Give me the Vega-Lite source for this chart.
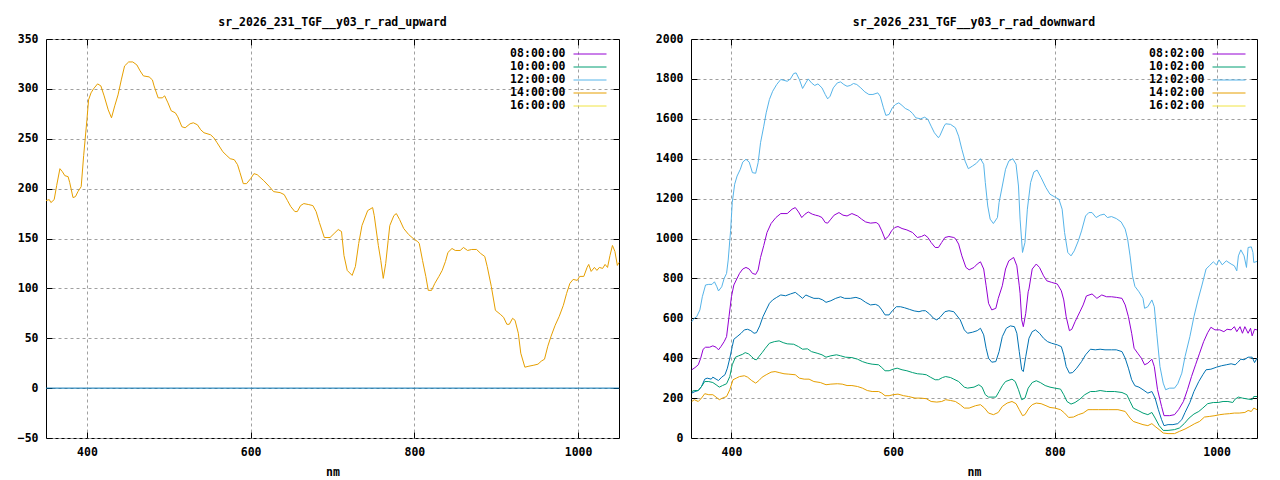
{
  "$schema": "https://vega.github.io/schema/vega-lite/v6.json",
  "background": "white",
  "padding": {"left": 5, "top": 16, "right": 5, "bottom": 0},
  "spacing": 28,
  "config": {
    "font": "DejaVu Sans Mono",
    "view": {"stroke": "black", "strokeWidth": 1},
    "axis": {
      "labelFont": "DejaVu Sans Mono", "labelFontSize": 11.5, "labelFontWeight": "bold", "labelColor": "black",
      "titleFont": "DejaVu Sans Mono", "titleFontSize": 11.5, "titleFontWeight": "bold", "titleColor": "black",
      "domain": false, "tickColor": "black", "tickSize": -6, "tickWidth": 1, "format": "d",
      "gridColor": "#a0a0a0", "gridDash": [3, 3], "gridWidth": 1
    },
    "axisX": {"labelPadding": 14, "titlePadding": 9},
    "axisY": {"labelPadding": 14, "minExtent": 40, "maxExtent": 40, "title": null},
    "title": {"font": "DejaVu Sans Mono", "fontSize": 11.5, "fontWeight": "bold", "color": "black", "offset": 5},
    "legend": {
      "orient": "none", "title": null, "symbolType": "M-3,0H3", "symbolSize": 121, "symbolStrokeWidth": 1,
      "labelAlign": "right", "labelOffset": -30.5, "labelFont": "DejaVu Sans Mono", "labelFontSize": 11.5,
      "labelFontWeight": "bold", "labelColor": "black", "rowPadding": 1
    }
  },
  "resolve": {"scale": {"color": "independent"}, "legend": {"color": "independent"}},
  "hconcat": [
    {
      "width": 573, "height": 399,
      "title": {"text": "sr_2026_231_TGF__y03_r_rad_upward", "frame": "group"},
      "layer": [
        {
          "data": {"values": [
            {"s":"z","x":350,"y":0},{"s":"z","x":1050,"y":0},
            {"s":"o","x":350,"y":188},{"s":"o","x":354,"y":189},{"s":"o","x":356,"y":186},{"s":"o","x":360,"y":189},{"s":"o","x":363,"y":203},{"s":"o","x":367,"y":220},{"s":"o","x":370,"y":217},{"s":"o","x":373,"y":213},{"s":"o","x":377,"y":212},{"s":"o","x":379,"y":206},{"s":"o","x":383,"y":191},{"s":"o","x":386,"y":192},{"s":"o","x":389,"y":197},{"s":"o","x":393,"y":202},{"s":"o","x":396,"y":233},{"s":"o","x":400,"y":269},{"s":"o","x":402,"y":289},{"s":"o","x":405,"y":296},{"s":"o","x":408,"y":300},{"s":"o","x":413,"y":305},{"s":"o","x":417,"y":303},{"s":"o","x":421,"y":293},{"s":"o","x":426,"y":279},{"s":"o","x":430,"y":271},{"s":"o","x":434,"y":283},{"s":"o","x":438,"y":294},{"s":"o","x":442,"y":309},{"s":"o","x":446,"y":323},{"s":"o","x":451,"y":327},{"s":"o","x":456,"y":327},{"s":"o","x":461,"y":324},{"s":"o","x":465,"y":318},{"s":"o","x":469,"y":313},{"s":"o","x":476,"y":312},{"s":"o","x":480,"y":309},{"s":"o","x":482,"y":303},{"s":"o","x":487,"y":291},{"s":"o","x":492,"y":291},{"s":"o","x":495,"y":293},{"s":"o","x":499,"y":286},{"s":"o","x":503,"y":278},{"s":"o","x":508,"y":276},{"s":"o","x":511,"y":272},{"s":"o","x":516,"y":262},{"s":"o","x":520,"y":261},{"s":"o","x":526,"y":265},{"s":"o","x":530,"y":266},{"s":"o","x":535,"y":264},{"s":"o","x":539,"y":259},{"s":"o","x":543,"y":256},{"s":"o","x":551,"y":254},{"s":"o","x":555,"y":251},{"s":"o","x":559,"y":246},{"s":"o","x":566,"y":237},{"s":"o","x":571,"y":233},{"s":"o","x":575,"y":230},{"s":"o","x":580,"y":229},{"s":"o","x":584,"y":224},{"s":"o","x":587,"y":216},{"s":"o","x":591,"y":205},{"s":"o","x":595,"y":205},{"s":"o","x":600,"y":210},{"s":"o","x":604,"y":215},{"s":"o","x":608,"y":214},{"s":"o","x":616,"y":208},{"s":"o","x":623,"y":202},{"s":"o","x":628,"y":197},{"s":"o","x":636,"y":196},{"s":"o","x":641,"y":194},{"s":"o","x":645,"y":188},{"s":"o","x":649,"y":182},{"s":"o","x":654,"y":177},{"s":"o","x":657,"y":177},{"s":"o","x":661,"y":183},{"s":"o","x":665,"y":185},{"s":"o","x":671,"y":184},{"s":"o","x":676,"y":183},{"s":"o","x":680,"y":177},{"s":"o","x":684,"y":166},{"s":"o","x":690,"y":151},{"s":"o","x":697,"y":151},{"s":"o","x":702,"y":155},{"s":"o","x":707,"y":159},{"s":"o","x":711,"y":157},{"s":"o","x":714,"y":133},{"s":"o","x":718,"y":118},{"s":"o","x":724,"y":113},{"s":"o","x":728,"y":122},{"s":"o","x":732,"y":145},{"s":"o","x":736,"y":163},{"s":"o","x":743,"y":178},{"s":"o","x":749,"y":181},{"s":"o","x":751,"y":173},{"s":"o","x":756,"y":143},{"s":"o","x":759,"y":128},{"s":"o","x":762,"y":110},{"s":"o","x":765,"y":125},{"s":"o","x":768,"y":148},{"s":"o","x":770,"y":163},{"s":"o","x":775,"y":173},{"s":"o","x":778,"y":175},{"s":"o","x":782,"y":169},{"s":"o","x":787,"y":160},{"s":"o","x":793,"y":154},{"s":"o","x":800,"y":149},{"s":"o","x":804,"y":147},{"s":"o","x":806,"y":145},{"s":"o","x":810,"y":128},{"s":"o","x":814,"y":112},{"s":"o","x":817,"y":98},{"s":"o","x":821,"y":98},{"s":"o","x":825,"y":105},{"s":"o","x":830,"y":112},{"s":"o","x":834,"y":118},{"s":"o","x":838,"y":127},{"s":"o","x":841,"y":136},{"s":"o","x":846,"y":140},{"s":"o","x":850,"y":138},{"s":"o","x":856,"y":138},{"s":"o","x":860,"y":141},{"s":"o","x":865,"y":138},{"s":"o","x":870,"y":139},{"s":"o","x":876,"y":139},{"s":"o","x":881,"y":135},{"s":"o","x":886,"y":132},{"s":"o","x":889,"y":122},{"s":"o","x":894,"y":102},{"s":"o","x":899,"y":78},{"s":"o","x":905,"y":74},{"s":"o","x":909,"y":71},{"s":"o","x":913,"y":64},{"s":"o","x":916,"y":64},{"s":"o","x":920,"y":70},{"s":"o","x":923,"y":68},{"s":"o","x":927,"y":55},{"s":"o","x":930,"y":35},{"s":"o","x":935,"y":21},{"s":"o","x":940,"y":22},{"s":"o","x":946,"y":23},{"s":"o","x":951,"y":24},{"s":"o","x":955,"y":27},{"s":"o","x":959,"y":29},{"s":"o","x":963,"y":42},{"s":"o","x":967,"y":52},{"s":"o","x":972,"y":63},{"s":"o","x":977,"y":72},{"s":"o","x":982,"y":83},{"s":"o","x":986,"y":95},{"s":"o","x":990,"y":105},{"s":"o","x":994,"y":109},{"s":"o","x":999,"y":108},{"s":"o","x":1002,"y":112},{"s":"o","x":1007,"y":112},{"s":"o","x":1011,"y":121},{"s":"o","x":1013,"y":124},{"s":"o","x":1016,"y":117},{"s":"o","x":1020,"y":121},{"s":"o","x":1023,"y":118},{"s":"o","x":1026,"y":121},{"s":"o","x":1030,"y":120},{"s":"o","x":1033,"y":124},{"s":"o","x":1036,"y":121},{"s":"o","x":1039,"y":133},{"s":"o","x":1042,"y":143},{"s":"o","x":1045,"y":137},{"s":"o","x":1048,"y":123},{"s":"o","x":1050,"y":126}
          ]},
          "mark": {"type": "line", "strokeWidth": 1},
          "encoding": {
            "x": {"field": "x", "type": "quantitative", "title": "nm",
                  "scale": {"domain": [350, 1050], "nice": false, "zero": false},
                  "axis": {"values": [400, 600, 800, 1000]}},
            "y": {"field": "y", "type": "quantitative",
                  "scale": {"domain": [-50, 350], "nice": false, "zero": false},
                  "axis": {"values": [-50, 0, 50, 100, 150, 200, 250, 300, 350]}},
            "color": {"field": "s", "type": "nominal", "legend": null,
                      "scale": {"domain": ["z", "o"], "range": ["#0072b2", "#e69f00"]}}
          }
        },
        {
          "data": {"values": []},
          "mark": {"type": "line", "strokeWidth": 1},
          "encoding": {
            "x": {"field": "x", "type": "quantitative",
                  "axis": {"orient": "top", "values": [400, 600, 800, 1000], "labels": false, "grid": false, "title": null, "minExtent": 0, "maxExtent": 0}},
            "y": {"field": "y", "type": "quantitative",
                  "axis": {"orient": "right", "values": [-50, 0, 50, 100, 150, 200, 250, 300, 350], "labels": false, "grid": false, "title": null, "minExtent": 0, "maxExtent": 0}},
            "color": {"field": "t", "type": "nominal",
                      "scale": {"domain": ["08:00:00", "10:00:00", "12:00:00", "14:00:00", "16:00:00"],
                                "range": ["#9400d3", "#009e73", "#56b4e9", "#e69f00", "#f0e442"]},
                      "legend": {"legendX": 538, "legendY": 9}}
          }
        }
      ],
      "resolve": {"scale": {"color": "independent"}, "axis": {"x": "independent", "y": "independent"}, "legend": {"color": "independent"}}
    },
    {
      "width": 566, "height": 399,
      "title": {"text": "sr_2026_231_TGF__y03_r_rad_downward", "frame": "group"},
      "layer": [
        {
          "data": {"values": [
            {"s":"a","x":351,"y":342},{"s":"a","x":355,"y":353},{"s":"a","x":359,"y":367},{"s":"a","x":362,"y":400},{"s":"a","x":365,"y":445},{"s":"a","x":368,"y":455},{"s":"a","x":373,"y":455},{"s":"a","x":377,"y":462},{"s":"a","x":381,"y":455},{"s":"a","x":384,"y":442},{"s":"a","x":387,"y":458},{"s":"a","x":391,"y":483},{"s":"a","x":394,"y":508},{"s":"a","x":397,"y":608},{"s":"a","x":400,"y":708},{"s":"a","x":403,"y":767},{"s":"a","x":406,"y":792},{"s":"a","x":410,"y":825},{"s":"a","x":414,"y":847},{"s":"a","x":418,"y":855},{"s":"a","x":422,"y":847},{"s":"a","x":426,"y":825},{"s":"a","x":430,"y":820},{"s":"a","x":433,"y":842},{"s":"a","x":436,"y":905},{"s":"a","x":440,"y":965},{"s":"a","x":444,"y":1030},{"s":"a","x":449,"y":1075},{"s":"a","x":455,"y":1105},{"s":"a","x":461,"y":1125},{"s":"a","x":469,"y":1125},{"s":"a","x":475,"y":1147},{"s":"a","x":479,"y":1155},{"s":"a","x":483,"y":1133},{"s":"a","x":487,"y":1105},{"s":"a","x":491,"y":1122},{"s":"a","x":495,"y":1133},{"s":"a","x":500,"y":1122},{"s":"a","x":504,"y":1117},{"s":"a","x":508,"y":1113},{"s":"a","x":512,"y":1105},{"s":"a","x":516,"y":1080},{"s":"a","x":519,"y":1077},{"s":"a","x":523,"y":1097},{"s":"a","x":527,"y":1117},{"s":"a","x":533,"y":1130},{"s":"a","x":538,"y":1117},{"s":"a","x":543,"y":1113},{"s":"a","x":549,"y":1125},{"s":"a","x":556,"y":1113},{"s":"a","x":561,"y":1097},{"s":"a","x":566,"y":1083},{"s":"a","x":572,"y":1077},{"s":"a","x":579,"y":1080},{"s":"a","x":582,"y":1072},{"s":"a","x":586,"y":1038},{"s":"a","x":590,"y":997},{"s":"a","x":594,"y":1010},{"s":"a","x":598,"y":1038},{"s":"a","x":602,"y":1055},{"s":"a","x":606,"y":1060},{"s":"a","x":611,"y":1050},{"s":"a","x":617,"y":1043},{"s":"a","x":624,"y":1030},{"s":"a","x":630,"y":1005},{"s":"a","x":635,"y":1010},{"s":"a","x":639,"y":1018},{"s":"a","x":643,"y":1005},{"s":"a","x":647,"y":980},{"s":"a","x":652,"y":955},{"s":"a","x":656,"y":955},{"s":"a","x":660,"y":980},{"s":"a","x":664,"y":1005},{"s":"a","x":669,"y":1010},{"s":"a","x":675,"y":1005},{"s":"a","x":677,"y":1000},{"s":"a","x":681,"y":972},{"s":"a","x":685,"y":913},{"s":"a","x":690,"y":855},{"s":"a","x":694,"y":843},{"s":"a","x":700,"y":855},{"s":"a","x":704,"y":872},{"s":"a","x":708,"y":883},{"s":"a","x":712,"y":847},{"s":"a","x":715,"y":763},{"s":"a","x":718,"y":675},{"s":"a","x":722,"y":642},{"s":"a","x":727,"y":650},{"s":"a","x":730,"y":700},{"s":"a","x":735,"y":763},{"s":"a","x":739,"y":847},{"s":"a","x":743,"y":888},{"s":"a","x":749,"y":905},{"s":"a","x":753,"y":863},{"s":"a","x":756,"y":763},{"s":"a","x":757,"y":725},{"s":"a","x":759,"y":592},{"s":"a","x":761,"y":558},{"s":"a","x":764,"y":625},{"s":"a","x":767,"y":733},{"s":"a","x":768,"y":747},{"s":"a","x":772,"y":847},{"s":"a","x":777,"y":872},{"s":"a","x":781,"y":855},{"s":"a","x":786,"y":813},{"s":"a","x":790,"y":788},{"s":"a","x":796,"y":780},{"s":"a","x":803,"y":772},{"s":"a","x":808,"y":738},{"s":"a","x":811,"y":692},{"s":"a","x":814,"y":608},{"s":"a","x":818,"y":538},{"s":"a","x":821,"y":545},{"s":"a","x":825,"y":583},{"s":"a","x":831,"y":633},{"s":"a","x":835,"y":667},{"s":"a","x":839,"y":712},{"s":"a","x":846,"y":722},{"s":"a","x":852,"y":700},{"s":"a","x":858,"y":717},{"s":"a","x":864,"y":708},{"s":"a","x":870,"y":708},{"s":"a","x":876,"y":705},{"s":"a","x":883,"y":700},{"s":"a","x":887,"y":667},{"s":"a","x":891,"y":608},{"s":"a","x":895,"y":525},{"s":"a","x":898,"y":450},{"s":"a","x":903,"y":422},{"s":"a","x":907,"y":400},{"s":"a","x":911,"y":367},{"s":"a","x":915,"y":375},{"s":"a","x":920,"y":395},{"s":"a","x":923,"y":358},{"s":"a","x":927,"y":242},{"s":"a","x":932,"y":158},{"s":"a","x":935,"y":112},{"s":"a","x":942,"y":112},{"s":"a","x":948,"y":117},{"s":"a","x":953,"y":142},{"s":"a","x":959,"y":183},{"s":"a","x":964,"y":242},{"s":"a","x":969,"y":308},{"s":"a","x":974,"y":367},{"s":"a","x":979,"y":425},{"s":"a","x":984,"y":483},{"s":"a","x":989,"y":528},{"s":"a","x":993,"y":555},{"s":"a","x":998,"y":542},{"s":"a","x":1004,"y":542},{"s":"a","x":1009,"y":533},{"s":"a","x":1013,"y":545},{"s":"a","x":1018,"y":542},{"s":"a","x":1022,"y":558},{"s":"a","x":1025,"y":533},{"s":"a","x":1029,"y":558},{"s":"a","x":1032,"y":525},{"s":"a","x":1035,"y":558},{"s":"a","x":1039,"y":525},{"s":"a","x":1042,"y":550},{"s":"a","x":1044,"y":512},{"s":"a","x":1047,"y":545},{"s":"a","x":1050,"y":542},
            {"s":"b","x":351,"y":583},{"s":"b","x":354,"y":600},{"s":"b","x":357,"y":608},{"s":"b","x":361,"y":642},{"s":"b","x":364,"y":708},{"s":"b","x":368,"y":767},{"s":"b","x":372,"y":770},{"s":"b","x":376,"y":770},{"s":"b","x":379,"y":783},{"s":"b","x":382,"y":758},{"s":"b","x":384,"y":737},{"s":"b","x":388,"y":758},{"s":"b","x":391,"y":800},{"s":"b","x":394,"y":825},{"s":"b","x":396,"y":892},{"s":"b","x":398,"y":992},{"s":"b","x":399,"y":1040},{"s":"b","x":401,"y":1180},{"s":"b","x":404,"y":1272},{"s":"b","x":407,"y":1313},{"s":"b","x":411,"y":1347},{"s":"b","x":414,"y":1383},{"s":"b","x":418,"y":1397},{"s":"b","x":422,"y":1383},{"s":"b","x":426,"y":1330},{"s":"b","x":430,"y":1327},{"s":"b","x":433,"y":1380},{"s":"b","x":436,"y":1480},{"s":"b","x":440,"y":1563},{"s":"b","x":443,"y":1630},{"s":"b","x":447,"y":1697},{"s":"b","x":451,"y":1738},{"s":"b","x":456,"y":1772},{"s":"b","x":461,"y":1797},{"s":"b","x":465,"y":1793},{"s":"b","x":469,"y":1788},{"s":"b","x":473,"y":1800},{"s":"b","x":477,"y":1827},{"s":"b","x":480,"y":1830},{"s":"b","x":484,"y":1797},{"s":"b","x":488,"y":1752},{"s":"b","x":492,"y":1780},{"s":"b","x":495,"y":1800},{"s":"b","x":499,"y":1780},{"s":"b","x":503,"y":1767},{"s":"b","x":507,"y":1775},{"s":"b","x":512,"y":1755},{"s":"b","x":516,"y":1722},{"s":"b","x":519,"y":1700},{"s":"b","x":522,"y":1713},{"s":"b","x":526,"y":1755},{"s":"b","x":531,"y":1780},{"s":"b","x":535,"y":1785},{"s":"b","x":539,"y":1772},{"s":"b","x":543,"y":1763},{"s":"b","x":547,"y":1767},{"s":"b","x":551,"y":1777},{"s":"b","x":555,"y":1772},{"s":"b","x":560,"y":1755},{"s":"b","x":565,"y":1735},{"s":"b","x":570,"y":1722},{"s":"b","x":575,"y":1722},{"s":"b","x":581,"y":1730},{"s":"b","x":584,"y":1713},{"s":"b","x":588,"y":1655},{"s":"b","x":591,"y":1617},{"s":"b","x":595,"y":1622},{"s":"b","x":599,"y":1655},{"s":"b","x":603,"y":1672},{"s":"b","x":607,"y":1680},{"s":"b","x":611,"y":1667},{"s":"b","x":615,"y":1652},{"s":"b","x":620,"y":1642},{"s":"b","x":624,"y":1627},{"s":"b","x":628,"y":1605},{"s":"b","x":634,"y":1600},{"s":"b","x":639,"y":1608},{"s":"b","x":643,"y":1597},{"s":"b","x":647,"y":1563},{"s":"b","x":651,"y":1530},{"s":"b","x":656,"y":1505},{"s":"b","x":658,"y":1517},{"s":"b","x":663,"y":1563},{"s":"b","x":665,"y":1575},{"s":"b","x":671,"y":1572},{"s":"b","x":677,"y":1555},{"s":"b","x":681,"y":1513},{"s":"b","x":685,"y":1447},{"s":"b","x":689,"y":1388},{"s":"b","x":693,"y":1350},{"s":"b","x":698,"y":1363},{"s":"b","x":703,"y":1377},{"s":"b","x":708,"y":1400},{"s":"b","x":712,"y":1372},{"s":"b","x":714,"y":1280},{"s":"b","x":717,"y":1163},{"s":"b","x":720,"y":1097},{"s":"b","x":724,"y":1075},{"s":"b","x":729,"y":1105},{"s":"b","x":731,"y":1180},{"s":"b","x":735,"y":1263},{"s":"b","x":739,"y":1347},{"s":"b","x":743,"y":1388},{"s":"b","x":748,"y":1400},{"s":"b","x":752,"y":1372},{"s":"b","x":755,"y":1263},{"s":"b","x":757,"y":1097},{"s":"b","x":760,"y":930},{"s":"b","x":763,"y":980},{"s":"b","x":766,"y":1147},{"s":"b","x":770,"y":1280},{"s":"b","x":774,"y":1333},{"s":"b","x":778,"y":1343},{"s":"b","x":783,"y":1305},{"s":"b","x":789,"y":1255},{"s":"b","x":794,"y":1222},{"s":"b","x":800,"y":1208},{"s":"b","x":805,"y":1197},{"s":"b","x":809,"y":1147},{"s":"b","x":812,"y":1030},{"s":"b","x":816,"y":930},{"s":"b","x":820,"y":913},{"s":"b","x":824,"y":938},{"s":"b","x":829,"y":988},{"s":"b","x":833,"y":1038},{"s":"b","x":838,"y":1113},{"s":"b","x":842,"y":1130},{"s":"b","x":846,"y":1130},{"s":"b","x":851,"y":1105},{"s":"b","x":856,"y":1117},{"s":"b","x":861,"y":1122},{"s":"b","x":865,"y":1105},{"s":"b","x":870,"y":1110},{"s":"b","x":876,"y":1100},{"s":"b","x":882,"y":1083},{"s":"b","x":887,"y":1047},{"s":"b","x":890,"y":997},{"s":"b","x":893,"y":913},{"s":"b","x":896,"y":813},{"s":"b","x":899,"y":760},{"s":"b","x":904,"y":733},{"s":"b","x":909,"y":700},{"s":"b","x":911,"y":650},{"s":"b","x":915,"y":658},{"s":"b","x":920,"y":692},{"s":"b","x":923,"y":658},{"s":"b","x":926,"y":525},{"s":"b","x":930,"y":358},{"s":"b","x":934,"y":275},{"s":"b","x":937,"y":242},{"s":"b","x":942,"y":250},{"s":"b","x":948,"y":250},{"s":"b","x":952,"y":272},{"s":"b","x":957,"y":325},{"s":"b","x":961,"y":408},{"s":"b","x":967,"y":508},{"s":"b","x":972,"y":608},{"s":"b","x":977,"y":692},{"s":"b","x":982,"y":767},{"s":"b","x":987,"y":847},{"s":"b","x":991,"y":863},{"s":"b","x":996,"y":883},{"s":"b","x":1000,"y":867},{"s":"b","x":1003,"y":893},{"s":"b","x":1007,"y":868},{"s":"b","x":1012,"y":888},{"s":"b","x":1018,"y":872},{"s":"b","x":1022,"y":863},{"s":"b","x":1025,"y":838},{"s":"b","x":1027,"y":913},{"s":"b","x":1030,"y":943},{"s":"b","x":1034,"y":913},{"s":"b","x":1037,"y":855},{"s":"b","x":1039,"y":955},{"s":"b","x":1043,"y":958},{"s":"b","x":1045,"y":930},{"s":"b","x":1046,"y":880},{"s":"b","x":1050,"y":885},
            {"s":"c","x":351,"y":225},{"s":"c","x":355,"y":233},{"s":"c","x":359,"y":238},{"s":"c","x":363,"y":258},{"s":"c","x":367,"y":295},{"s":"c","x":370,"y":300},{"s":"c","x":375,"y":295},{"s":"c","x":377,"y":305},{"s":"c","x":381,"y":295},{"s":"c","x":384,"y":288},{"s":"c","x":388,"y":305},{"s":"c","x":392,"y":317},{"s":"c","x":395,"y":350},{"s":"c","x":398,"y":400},{"s":"c","x":401,"y":458},{"s":"c","x":403,"y":495},{"s":"c","x":407,"y":508},{"s":"c","x":412,"y":525},{"s":"c","x":416,"y":542},{"s":"c","x":420,"y":545},{"s":"c","x":424,"y":538},{"s":"c","x":428,"y":525},{"s":"c","x":431,"y":528},{"s":"c","x":435,"y":562},{"s":"c","x":439,"y":608},{"s":"c","x":443,"y":642},{"s":"c","x":447,"y":675},{"s":"c","x":451,"y":692},{"s":"c","x":456,"y":705},{"s":"c","x":461,"y":717},{"s":"c","x":467,"y":713},{"s":"c","x":473,"y":722},{"s":"c","x":479,"y":730},{"s":"c","x":483,"y":717},{"s":"c","x":488,"y":700},{"s":"c","x":492,"y":717},{"s":"c","x":497,"y":708},{"s":"c","x":502,"y":700},{"s":"c","x":508,"y":700},{"s":"c","x":513,"y":692},{"s":"c","x":517,"y":680},{"s":"c","x":523,"y":688},{"s":"c","x":529,"y":700},{"s":"c","x":535,"y":708},{"s":"c","x":540,"y":700},{"s":"c","x":547,"y":700},{"s":"c","x":554,"y":705},{"s":"c","x":560,"y":697},{"s":"c","x":566,"y":680},{"s":"c","x":572,"y":667},{"s":"c","x":578,"y":670},{"s":"c","x":582,"y":663},{"s":"c","x":586,"y":642},{"s":"c","x":590,"y":617},{"s":"c","x":595,"y":617},{"s":"c","x":599,"y":638},{"s":"c","x":604,"y":658},{"s":"c","x":609,"y":658},{"s":"c","x":614,"y":653},{"s":"c","x":620,"y":645},{"s":"c","x":626,"y":637},{"s":"c","x":632,"y":633},{"s":"c","x":636,"y":638},{"s":"c","x":640,"y":638},{"s":"c","x":645,"y":622},{"s":"c","x":650,"y":600},{"s":"c","x":654,"y":592},{"s":"c","x":658,"y":605},{"s":"c","x":664,"y":633},{"s":"c","x":669,"y":638},{"s":"c","x":675,"y":633},{"s":"c","x":683,"y":592},{"s":"c","x":688,"y":542},{"s":"c","x":692,"y":525},{"s":"c","x":698,"y":530},{"s":"c","x":704,"y":538},{"s":"c","x":708,"y":550},{"s":"c","x":712,"y":517},{"s":"c","x":715,"y":450},{"s":"c","x":718,"y":400},{"s":"c","x":722,"y":380},{"s":"c","x":727,"y":383},{"s":"c","x":731,"y":433},{"s":"c","x":735,"y":508},{"s":"c","x":740,"y":550},{"s":"c","x":745,"y":562},{"s":"c","x":750,"y":558},{"s":"c","x":753,"y":525},{"s":"c","x":756,"y":433},{"s":"c","x":759,"y":342},{"s":"c","x":761,"y":333},{"s":"c","x":764,"y":408},{"s":"c","x":768,"y":500},{"s":"c","x":772,"y":533},{"s":"c","x":776,"y":542},{"s":"c","x":781,"y":525},{"s":"c","x":786,"y":500},{"s":"c","x":791,"y":483},{"s":"c","x":796,"y":475},{"s":"c","x":803,"y":467},{"s":"c","x":808,"y":458},{"s":"c","x":811,"y":417},{"s":"c","x":814,"y":358},{"s":"c","x":818,"y":325},{"s":"c","x":822,"y":328},{"s":"c","x":827,"y":350},{"s":"c","x":833,"y":383},{"s":"c","x":838,"y":417},{"s":"c","x":844,"y":445},{"s":"c","x":850,"y":442},{"s":"c","x":856,"y":445},{"s":"c","x":862,"y":442},{"s":"c","x":870,"y":442},{"s":"c","x":876,"y":442},{"s":"c","x":883,"y":433},{"s":"c","x":887,"y":400},{"s":"c","x":891,"y":350},{"s":"c","x":895,"y":292},{"s":"c","x":899,"y":262},{"s":"c","x":904,"y":255},{"s":"c","x":909,"y":242},{"s":"c","x":915,"y":225},{"s":"c","x":920,"y":233},{"s":"c","x":924,"y":200},{"s":"c","x":928,"y":142},{"s":"c","x":932,"y":92},{"s":"c","x":935,"y":62},{"s":"c","x":940,"y":67},{"s":"c","x":946,"y":67},{"s":"c","x":952,"y":72},{"s":"c","x":957,"y":92},{"s":"c","x":961,"y":128},{"s":"c","x":967,"y":178},{"s":"c","x":972,"y":233},{"s":"c","x":978,"y":283},{"s":"c","x":983,"y":317},{"s":"c","x":987,"y":342},{"s":"c","x":993,"y":345},{"s":"c","x":1000,"y":355},{"s":"c","x":1006,"y":362},{"s":"c","x":1012,"y":367},{"s":"c","x":1018,"y":372},{"s":"c","x":1023,"y":367},{"s":"c","x":1026,"y":378},{"s":"c","x":1030,"y":395},{"s":"c","x":1034,"y":392},{"s":"c","x":1039,"y":405},{"s":"c","x":1044,"y":405},{"s":"c","x":1047,"y":378},{"s":"c","x":1050,"y":400},
            {"s":"d","x":351,"y":233},{"s":"d","x":354,"y":238},{"s":"d","x":359,"y":238},{"s":"d","x":363,"y":258},{"s":"d","x":367,"y":283},{"s":"d","x":372,"y":283},{"s":"d","x":377,"y":278},{"s":"d","x":381,"y":267},{"s":"d","x":385,"y":255},{"s":"d","x":389,"y":263},{"s":"d","x":394,"y":272},{"s":"d","x":398,"y":308},{"s":"d","x":401,"y":367},{"s":"d","x":405,"y":405},{"s":"d","x":409,"y":412},{"s":"d","x":414,"y":420},{"s":"d","x":417,"y":428},{"s":"d","x":421,"y":422},{"s":"d","x":425,"y":408},{"s":"d","x":428,"y":395},{"s":"d","x":431,"y":392},{"s":"d","x":434,"y":408},{"s":"d","x":438,"y":428},{"s":"d","x":442,"y":450},{"s":"d","x":447,"y":475},{"s":"d","x":453,"y":483},{"s":"d","x":459,"y":487},{"s":"d","x":464,"y":478},{"s":"d","x":469,"y":472},{"s":"d","x":477,"y":470},{"s":"d","x":483,"y":458},{"s":"d","x":488,"y":445},{"s":"d","x":494,"y":447},{"s":"d","x":499,"y":433},{"s":"d","x":506,"y":425},{"s":"d","x":512,"y":417},{"s":"d","x":517,"y":405},{"s":"d","x":523,"y":412},{"s":"d","x":530,"y":417},{"s":"d","x":535,"y":412},{"s":"d","x":541,"y":405},{"s":"d","x":549,"y":403},{"s":"d","x":556,"y":395},{"s":"d","x":562,"y":383},{"s":"d","x":568,"y":375},{"s":"d","x":574,"y":370},{"s":"d","x":582,"y":367},{"s":"d","x":586,"y":353},{"s":"d","x":590,"y":337},{"s":"d","x":595,"y":337},{"s":"d","x":600,"y":345},{"s":"d","x":605,"y":350},{"s":"d","x":611,"y":342},{"s":"d","x":617,"y":337},{"s":"d","x":624,"y":328},{"s":"d","x":630,"y":322},{"s":"d","x":636,"y":320},{"s":"d","x":641,"y":317},{"s":"d","x":646,"y":305},{"s":"d","x":652,"y":292},{"s":"d","x":656,"y":292},{"s":"d","x":661,"y":303},{"s":"d","x":665,"y":308},{"s":"d","x":671,"y":303},{"s":"d","x":675,"y":295},{"s":"d","x":681,"y":283},{"s":"d","x":688,"y":255},{"s":"d","x":692,"y":250},{"s":"d","x":700,"y":255},{"s":"d","x":706,"y":267},{"s":"d","x":710,"y":255},{"s":"d","x":714,"y":217},{"s":"d","x":718,"y":205},{"s":"d","x":727,"y":205},{"s":"d","x":731,"y":233},{"s":"d","x":735,"y":262},{"s":"d","x":739,"y":283},{"s":"d","x":747,"y":295},{"s":"d","x":751,"y":283},{"s":"d","x":755,"y":242},{"s":"d","x":759,"y":192},{"s":"d","x":763,"y":200},{"s":"d","x":767,"y":250},{"s":"d","x":772,"y":278},{"s":"d","x":777,"y":287},{"s":"d","x":782,"y":278},{"s":"d","x":788,"y":263},{"s":"d","x":794,"y":255},{"s":"d","x":800,"y":250},{"s":"d","x":807,"y":245},{"s":"d","x":811,"y":217},{"s":"d","x":815,"y":183},{"s":"d","x":820,"y":170},{"s":"d","x":825,"y":178},{"s":"d","x":831,"y":195},{"s":"d","x":837,"y":217},{"s":"d","x":844,"y":233},{"s":"d","x":850,"y":233},{"s":"d","x":856,"y":238},{"s":"d","x":864,"y":233},{"s":"d","x":874,"y":233},{"s":"d","x":883,"y":228},{"s":"d","x":889,"y":217},{"s":"d","x":893,"y":183},{"s":"d","x":897,"y":150},{"s":"d","x":903,"y":138},{"s":"d","x":909,"y":125},{"s":"d","x":915,"y":117},{"s":"d","x":920,"y":128},{"s":"d","x":924,"y":100},{"s":"d","x":929,"y":62},{"s":"d","x":934,"y":38},{"s":"d","x":940,"y":38},{"s":"d","x":948,"y":42},{"s":"d","x":954,"y":50},{"s":"d","x":960,"y":72},{"s":"d","x":966,"y":100},{"s":"d","x":972,"y":120},{"s":"d","x":978,"y":133},{"s":"d","x":983,"y":150},{"s":"d","x":989,"y":172},{"s":"d","x":996,"y":178},{"s":"d","x":1002,"y":178},{"s":"d","x":1008,"y":183},{"s":"d","x":1014,"y":183},{"s":"d","x":1020,"y":178},{"s":"d","x":1023,"y":195},{"s":"d","x":1027,"y":205},{"s":"d","x":1032,"y":200},{"s":"d","x":1039,"y":195},{"s":"d","x":1044,"y":192},{"s":"d","x":1046,"y":208},{"s":"d","x":1050,"y":208},
            {"s":"e","x":351,"y":183},{"s":"e","x":354,"y":192},{"s":"e","x":359,"y":183},{"s":"e","x":363,"y":200},{"s":"e","x":367,"y":222},{"s":"e","x":372,"y":217},{"s":"e","x":377,"y":217},{"s":"e","x":381,"y":205},{"s":"e","x":385,"y":192},{"s":"e","x":389,"y":200},{"s":"e","x":394,"y":208},{"s":"e","x":398,"y":242},{"s":"e","x":402,"y":292},{"s":"e","x":406,"y":300},{"s":"e","x":410,"y":308},{"s":"e","x":416,"y":312},{"s":"e","x":420,"y":305},{"s":"e","x":425,"y":288},{"s":"e","x":430,"y":275},{"s":"e","x":434,"y":288},{"s":"e","x":438,"y":305},{"s":"e","x":443,"y":317},{"s":"e","x":449,"y":330},{"s":"e","x":454,"y":333},{"s":"e","x":459,"y":328},{"s":"e","x":465,"y":322},{"s":"e","x":471,"y":320},{"s":"e","x":479,"y":317},{"s":"e","x":484,"y":300},{"s":"e","x":490,"y":295},{"s":"e","x":496,"y":295},{"s":"e","x":502,"y":283},{"s":"e","x":510,"y":278},{"s":"e","x":517,"y":267},{"s":"e","x":523,"y":270},{"s":"e","x":531,"y":272},{"s":"e","x":537,"y":270},{"s":"e","x":543,"y":263},{"s":"e","x":549,"y":263},{"s":"e","x":556,"y":258},{"s":"e","x":562,"y":250},{"s":"e","x":568,"y":238},{"s":"e","x":574,"y":233},{"s":"e","x":582,"y":233},{"s":"e","x":586,"y":225},{"s":"e","x":590,"y":212},{"s":"e","x":595,"y":212},{"s":"e","x":600,"y":217},{"s":"e","x":606,"y":220},{"s":"e","x":613,"y":212},{"s":"e","x":619,"y":208},{"s":"e","x":627,"y":200},{"s":"e","x":634,"y":200},{"s":"e","x":641,"y":197},{"s":"e","x":647,"y":183},{"s":"e","x":654,"y":180},{"s":"e","x":660,"y":183},{"s":"e","x":665,"y":192},{"s":"e","x":671,"y":188},{"s":"e","x":677,"y":183},{"s":"e","x":683,"y":167},{"s":"e","x":688,"y":150},{"s":"e","x":694,"y":150},{"s":"e","x":702,"y":162},{"s":"e","x":708,"y":167},{"s":"e","x":713,"y":150},{"s":"e","x":718,"y":125},{"s":"e","x":724,"y":117},{"s":"e","x":730,"y":128},{"s":"e","x":735,"y":158},{"s":"e","x":741,"y":175},{"s":"e","x":747,"y":183},{"s":"e","x":752,"y":172},{"s":"e","x":756,"y":142},{"s":"e","x":760,"y":112},{"s":"e","x":763,"y":117},{"s":"e","x":768,"y":150},{"s":"e","x":772,"y":167},{"s":"e","x":777,"y":175},{"s":"e","x":783,"y":172},{"s":"e","x":789,"y":162},{"s":"e","x":794,"y":153},{"s":"e","x":800,"y":150},{"s":"e","x":807,"y":142},{"s":"e","x":812,"y":125},{"s":"e","x":817,"y":103},{"s":"e","x":823,"y":105},{"s":"e","x":829,"y":117},{"s":"e","x":835,"y":125},{"s":"e","x":841,"y":142},{"s":"e","x":846,"y":142},{"s":"e","x":854,"y":142},{"s":"e","x":866,"y":142},{"s":"e","x":878,"y":142},{"s":"e","x":887,"y":133},{"s":"e","x":893,"y":100},{"s":"e","x":897,"y":83},{"s":"e","x":903,"y":75},{"s":"e","x":909,"y":67},{"s":"e","x":915,"y":62},{"s":"e","x":920,"y":72},{"s":"e","x":924,"y":58},{"s":"e","x":929,"y":42},{"s":"e","x":934,"y":25},{"s":"e","x":940,"y":22},{"s":"e","x":948,"y":22},{"s":"e","x":954,"y":33},{"s":"e","x":961,"y":45},{"s":"e","x":967,"y":58},{"s":"e","x":973,"y":72},{"s":"e","x":979,"y":83},{"s":"e","x":985,"y":105},{"s":"e","x":991,"y":108},{"s":"e","x":998,"y":112},{"s":"e","x":1004,"y":117},{"s":"e","x":1010,"y":120},{"s":"e","x":1016,"y":122},{"s":"e","x":1022,"y":125},{"s":"e","x":1028,"y":125},{"s":"e","x":1035,"y":128},{"s":"e","x":1039,"y":138},{"s":"e","x":1043,"y":133},{"s":"e","x":1046,"y":150},{"s":"e","x":1050,"y":142}
          ]},
          "mark": {"type": "line", "strokeWidth": 1},
          "encoding": {
            "x": {"field": "x", "type": "quantitative", "title": "nm",
                  "scale": {"domain": [350, 1050], "nice": false, "zero": false},
                  "axis": {"values": [400, 600, 800, 1000]}},
            "y": {"field": "y", "type": "quantitative",
                  "scale": {"domain": [0, 2000], "nice": false},
                  "axis": {"values": [0, 200, 400, 600, 800, 1000, 1200, 1400, 1600, 1800, 2000]}},
            "color": {"field": "s", "type": "nominal", "legend": null,
                      "scale": {"domain": ["a", "b", "c", "d", "e"], "range": ["#9400d3", "#56b4e9", "#0072b2", "#009e73", "#e69f00"]}}
          }
        },
        {
          "data": {"values": []},
          "mark": {"type": "line", "strokeWidth": 1},
          "encoding": {
            "x": {"field": "x", "type": "quantitative",
                  "axis": {"orient": "top", "values": [400, 600, 800, 1000], "labels": false, "grid": false, "title": null, "minExtent": 0, "maxExtent": 0}},
            "y": {"field": "y", "type": "quantitative",
                  "axis": {"orient": "right", "values": [0, 200, 400, 600, 800, 1000, 1200, 1400, 1600, 1800, 2000], "labels": false, "grid": false, "title": null, "minExtent": 0, "maxExtent": 0}},
            "color": {"field": "t", "type": "nominal",
                      "scale": {"domain": ["08:02:00", "10:02:00", "12:02:00", "14:02:00", "16:02:00"],
                                "range": ["#9400d3", "#009e73", "#56b4e9", "#e69f00", "#f0e442"]},
                      "legend": {"legendX": 532, "legendY": 9}}
          }
        }
      ],
      "resolve": {"scale": {"color": "independent"}, "axis": {"x": "independent", "y": "independent"}, "legend": {"color": "independent"}}
    }
  ]
}
